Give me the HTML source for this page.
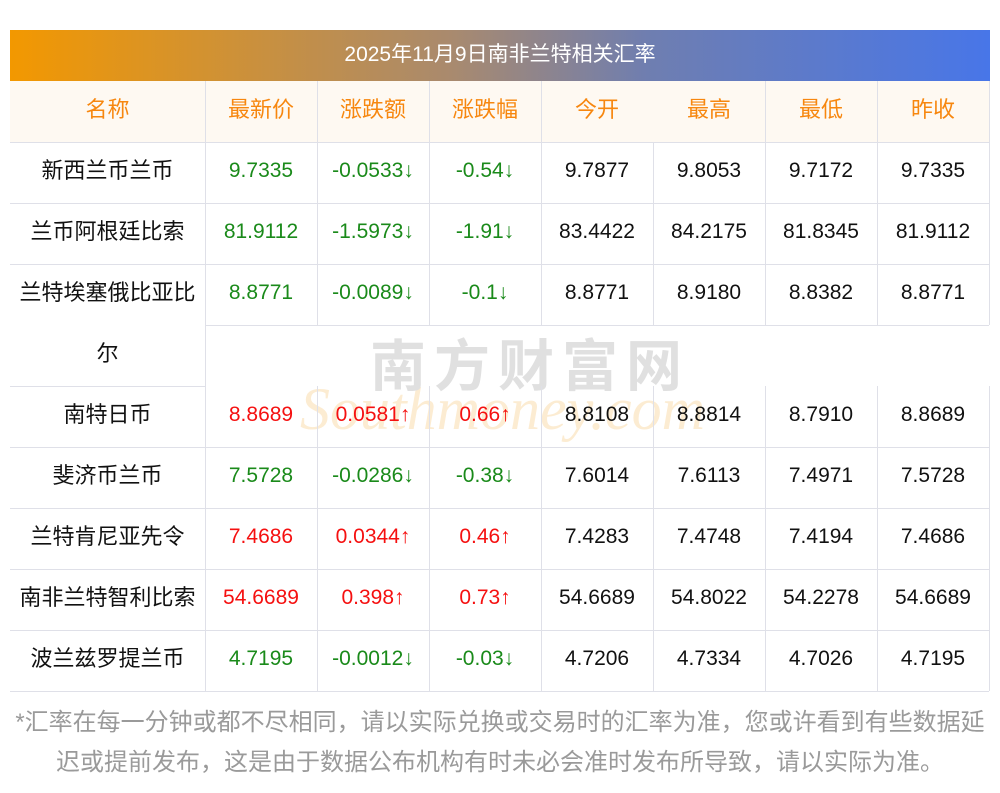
<!DOCTYPE html>
<html><head><meta charset="utf-8"><style>
body{margin:0;width:1000px;height:793px;background:#fff;position:relative;overflow:hidden;font-family:"Liberation Sans","Noto Sans CJK SC",sans-serif}
.t{position:absolute;left:10px;top:30px;width:980px;height:51px;background:linear-gradient(90deg,#f39800,#a98a6e 45%,#6f7eb0 65%,#4876e8);color:#fff;font-size:21px;line-height:49px;text-align:center}
.hd{position:absolute;left:10px;top:81px;width:979px;height:61px;background:#fef9f2}
.c{position:absolute;height:61px;line-height:57px;text-align:center;font-size:21px;color:#111;box-sizing:border-box;white-space:nowrap}
.n{font-size:22px}
.h{color:#f7870f;font-size:22px;line-height:58px}
.g{color:#1a8a1a}.r{color:#f51010}
.hl{position:absolute;height:1px;background:#dfe0e8}
.vl{position:absolute;width:1px;background:#dfe0e8}
.f{position:absolute;left:0;width:1000px;text-align:center;color:#9a9a9a;font-size:24px;line-height:30px}
.wm{position:absolute;left:370px;top:322px;font-size:56px;color:#e0e0e0;letter-spacing:8px;font-family:"Noto Sans CJK SC",sans-serif;font-weight:bold}
.wm2{position:absolute;left:300px;top:375px;font-size:60px;color:#fcecd2;font-style:italic;font-family:"Liberation Serif",serif}
</style></head><body>
<div class="t">2025年11月9日南非兰特相关汇率</div>
<div class="hd"></div>
<div class="wm2">Southmoney.com</div>
<div class="wm">南方财富网</div>
<div id="g"></div>
<script>
var cols=[10,205,317,429,541,653,765,877,989];
var heads=["名称","最新价","涨跌额","涨跌幅","今开","最高","最低","昨收"];
var rows=[
["新西兰币兰币","g","9.7335","-0.0533↓","-0.54↓","9.7877","9.8053","9.7172","9.7335"],
["兰币阿根廷比索","g","81.9112","-1.5973↓","-1.91↓","83.4422","84.2175","81.8345","81.9112"],
["兰特埃塞俄比亚比","g","8.8771","-0.0089↓","-0.1↓","8.8771","8.9180","8.8382","8.8771"],
null,
["南特日币","r","8.8689","0.0581↑","0.66↑","8.8108","8.8814","8.7910","8.8689"],
["斐济币兰币","g","7.5728","-0.0286↓","-0.38↓","7.6014","7.6113","7.4971","7.5728"],
["兰特肯尼亚先令","r","7.4686","0.0344↑","0.46↑","7.4283","7.4748","7.4194","7.4686"],
["南非兰特智利比索","r","54.6689","0.398↑","0.73↑","54.6689","54.8022","54.2278","54.6689"],
["波兰兹罗提兰币","g","4.7195","-0.0012↓","-0.03↓","4.7206","4.7334","4.7026","4.7195"]];
var h="";
function cell(x,w,y,txt,cls){h+='<div class="c '+cls+'" style="left:'+x+'px;width:'+w+'px;top:'+y+'px">'+txt+'</div>';}
for(var i=0;i<8;i++)cell(cols[i],cols[i+1]-cols[i],81,heads[i],"h");
var tops=[142,203,264,325,386,447,508,569,630];
for(var r=0;r<9;r++){var row=rows[r];if(!row){cell(10,195,325,"尔","n");continue;}
 for(var i=0;i<8;i++){var v=i==0?row[0]:row[i+1];var cls=i==0?"n":(i<=3?row[1]:"");cell(cols[i],cols[i+1]-cols[i],tops[r],v,cls);}}
[142,203,264,447,508,569,630,691].forEach(function(y){h+='<div class="hl" style="left:10px;width:979px;top:'+y+'px"></div>';});
h+='<div class="hl" style="left:205px;width:784px;top:325px"></div>';
h+='<div class="hl" style="left:10px;width:195px;top:386px"></div>';
for(var i=1;i<9;i++){
 var x=cols[i];
 if(i!=5)h+='<div class="vl" style="left:'+x+'px;top:81px;height:61px"></div>';
 if(i==1){h+='<div class="vl" style="left:'+x+'px;top:142px;height:549px"></div>';}
 else{h+='<div class="vl" style="left:'+x+'px;top:142px;height:183px"></div>';
      h+='<div class="vl" style="left:'+x+'px;top:386px;height:305px"></div>';}
}
document.getElementById("g").innerHTML=h;
</script>
<div class="f" style="top:708px">*汇率在每一分钟或都不尽相同，请以实际兑换或交易时的汇率为准，您或许看到有些数据延</div>
<div class="f" style="top:748px">迟或提前发布，这是由于数据公布机构有时未必会准时发布所导致，请以实际为准。</div>
</body></html>
